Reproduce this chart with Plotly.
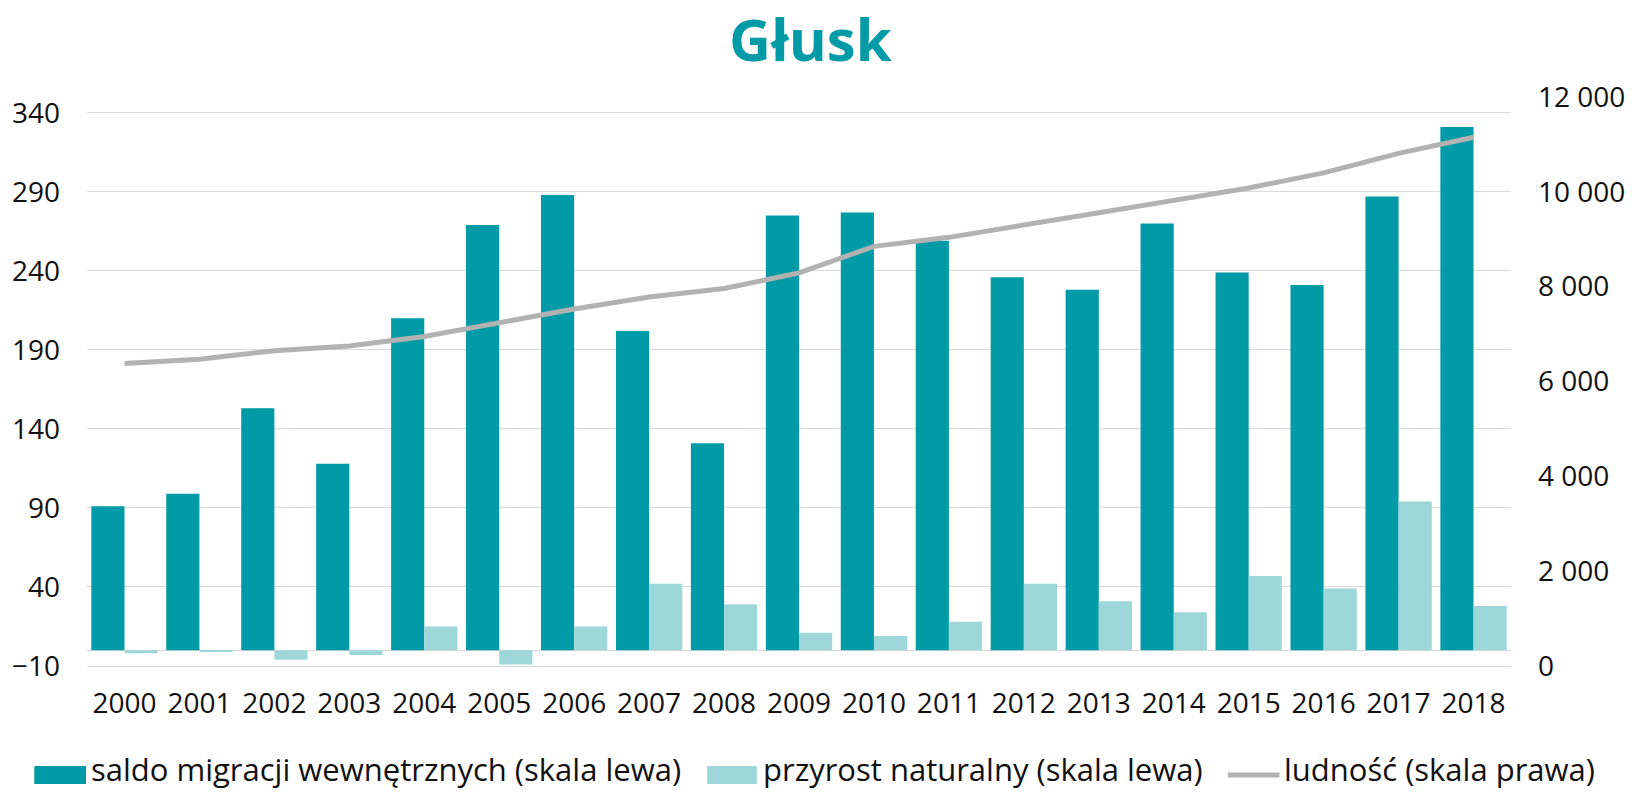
import plotly.graph_objects as go

# Gmina Głusk: internal migration balance, natural increase and population
years = [str(y) for y in range(2000, 2019)]
saldo_migracji = [91, 99, 153, 118, 210, 269, 288, 202, 131, 275,
                  277, 259, 236, 228, 270, 239, 231, 287, 331]
przyrost_naturalny = [-2, -1, -6, -3, 15, -9, 15, 42, 29, 11,
                      9, 18, 42, 31, 24, 47, 39, 94, 28]
ludnosc = [6380, 6470, 6650, 6750, 6950, 7240, 7530, 7780, 7960, 8290,
           8850, 9040, 9310, 9560, 9820, 10080, 10400, 10810, 11150]

legend_labels = ["saldo migracji wewnętrznych (skala lewa)",
                 "przyrost naturalny (skala lewa)",
                 "ludność (skala prawa)"]

DARK = "#009BA6"
LIGHT = "#9DD7DA"
GREY_LINE = "#B2B2B2"
GRID = "#D9D9D9"
TEXT = "#111111"
FONT = "Open Sans"

W, H = 1637, 792
M_L, M_R, M_T, M_B = 87, 117, 97, 126
PW, PH = W - M_L - M_R, H - M_T - M_B


def px_to_paper(x, y):
    return (x - M_L) / PW, (H - M_B - y) / PH


fig = go.Figure()
fig.add_trace(go.Bar(x=years, y=saldo_migracji, name=legend_labels[0],
                     marker=dict(color=DARK, line=dict(width=0)),
                     showlegend=False))
fig.add_trace(go.Bar(x=years, y=przyrost_naturalny, name=legend_labels[1],
                     marker=dict(color=LIGHT, line=dict(width=0)),
                     showlegend=False))
fig.add_trace(go.Scatter(x=years, y=ludnosc, name=legend_labels[2], yaxis="y2",
                         mode="lines", line=dict(color=GREY_LINE, width=5),
                         showlegend=False))

# hand-built legend row below the plot
shapes = []
annotations = []
items = [("rect", DARK, 34, 86, 89),
         ("rect", LIGHT, 711, 761, 765),
         ("line", GREY_LINE, 1235, 1287, 1290)]
sym_y = 775
text_y = 769
for (kind, color, x0, x1, tx), label in zip(items, legend_labels):
    if kind == "rect":
        a0, b0 = px_to_paper(x0, sym_y - 9)
        a1, b1 = px_to_paper(x1, sym_y + 9)
        shapes.append(dict(type="rect", xref="paper", yref="paper",
                           x0=a0, x1=a1, y0=b1, y1=b0,
                           fillcolor=color, line=dict(width=0)))
    else:
        a0, b0 = px_to_paper(x0, sym_y)
        a1, _ = px_to_paper(x1, sym_y)
        shapes.append(dict(type="line", xref="paper", yref="paper",
                           x0=a0, x1=a1, y0=b0, y1=b0,
                           line=dict(color=color, width=5)))
    ax, ay = px_to_paper(tx, text_y)
    annotations.append(dict(text=label, xref="paper", yref="paper", x=ax, y=ay,
                            xanchor="left", yanchor="middle", showarrow=False,
                            font=dict(family=FONT, size=31, color=TEXT)))

tick_font = dict(family=FONT, size=28, color=TEXT)

fig.update_layout(
    width=W, height=H,
    margin=dict(l=M_L, r=M_R, t=M_T, b=M_B),
    paper_bgcolor="white", plot_bgcolor="white",
    separators=", ",
    barmode="group", bargap=0.115, bargroupgap=0,
    title=dict(text="<b>Głusk</b>", x=0.495, xref="container", xanchor="center",
               y=1 - 41 / H, yref="container", yanchor="middle",
               font=dict(family=FONT, size=58, color=DARK)),
    xaxis=dict(type="category", showgrid=False, showline=True, linecolor=GRID,
               linewidth=1, ticks="", ticklabelstandoff=12, tickfont=tick_font),
    yaxis=dict(range=[-10, 350], tick0=-10, dtick=50, showgrid=True,
               gridcolor=GRID, gridwidth=1, zeroline=True, zerolinecolor=GRID,
               zerolinewidth=1, showline=False, ticks="", ticklabelstandoff=26,
               tickfont=tick_font),
    yaxis2=dict(range=[0, 12000], dtick=2000, overlaying="y", side="right",
                showgrid=False, zeroline=False, showline=False, ticks="",
                tickformat=",d", ticklabelstandoff=26, tickfont=tick_font),
    shapes=shapes,
    annotations=annotations,
)

fig.write_html("out.html")
